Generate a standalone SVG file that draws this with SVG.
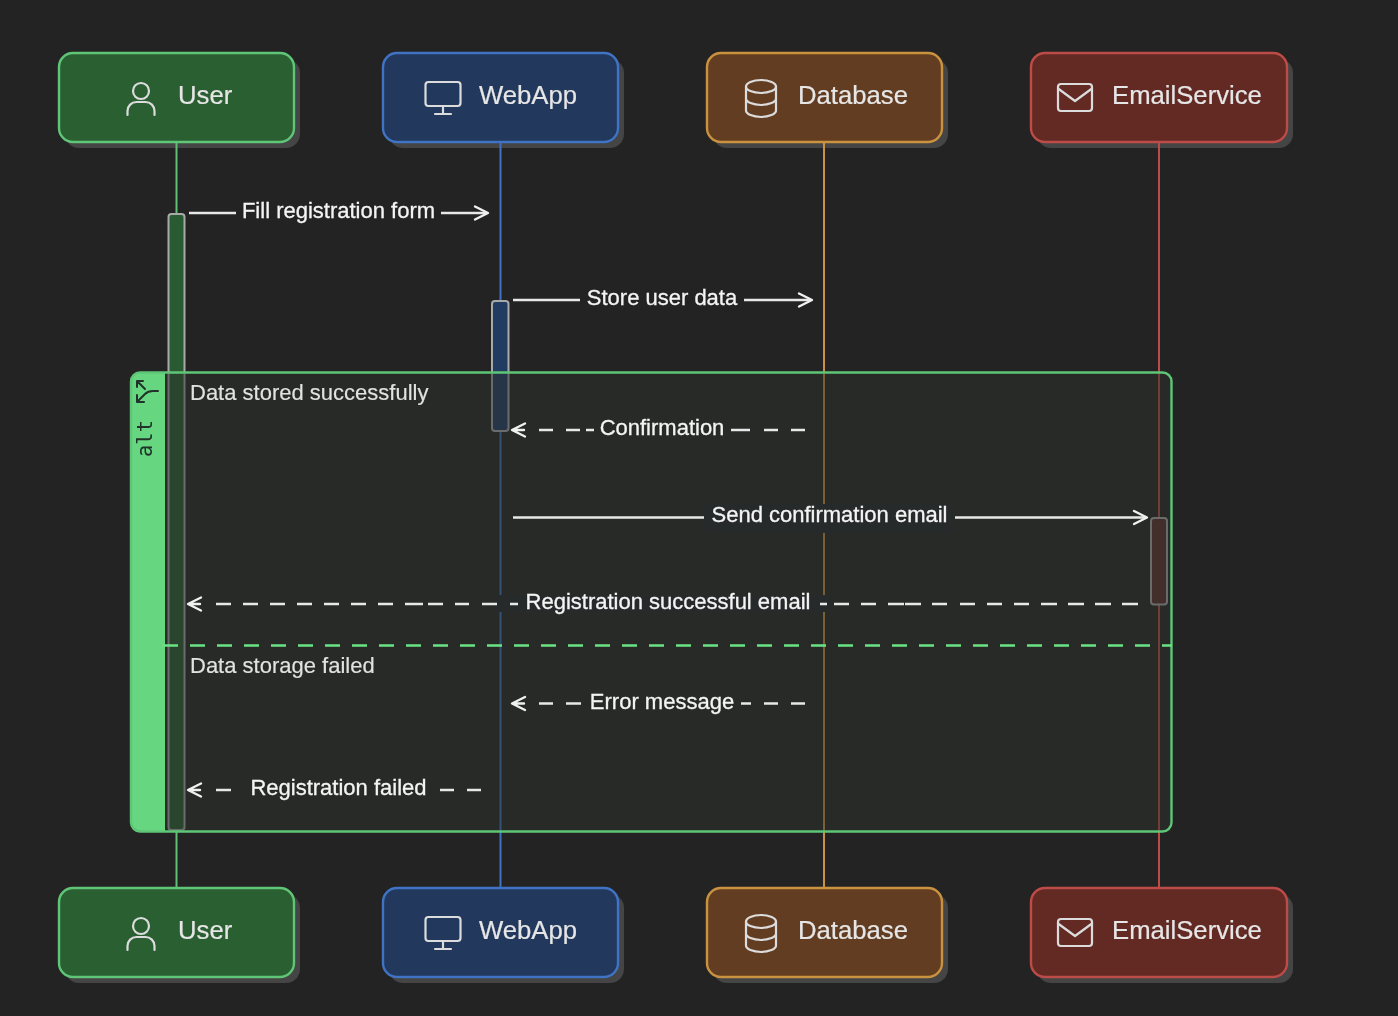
<svg xmlns="http://www.w3.org/2000/svg" width="1398" height="1016" viewBox="0 0 1398 1016">
<style>
text{font-family:"Liberation Sans",Arial,sans-serif;fill:#ececec}
.t{font-size:25.700px;fill:#e6e6e6;stroke:#e6e6e6;stroke-width:.2}
.m{font-size:22px;fill:#f4f4f4;stroke:#f4f4f4;stroke-width:.3}
.sec{font-size:22px;fill:#e2e2e2;stroke:#e2e2e2;stroke-width:.15}
.sh{fill:#444}
.ic{fill:none;stroke:#dcdcdc;stroke-width:2.200;stroke-linecap:round;stroke-linejoin:round}
.ll{stroke-width:2;fill:none}
.ms{stroke:#e8e8e8;stroke-width:2.400;fill:none}
.bg{fill:#282c2a}
.hd{fill:none;stroke:#f0f0f0;stroke-width:2.400;stroke-linecap:round;stroke-linejoin:round}
.ac{stroke:#a9a9a9;stroke-width:2}
</style>
<defs>
<g id="iUser" class="ic"><circle cx="0" cy="-6" r="8"/><path d="M-13.500 18v-4a9 9 0 0 1 9-9h9a9 9 0 0 1 9 9v4"/></g>
<g id="iWeb" class="ic"><rect x="-17.500" y="-13" width="35" height="24" rx="3"/><path d="M0 11v8M-8 19h16"/></g>
<g id="iDb" class="ic"><ellipse cx="0" cy="-11.500" rx="15" ry="6.500"/><path d="M-15 -11.500v24c0 3.600 7 6.500 15 6.500s15-2.900 15-6.500v-24M-15 .5c0 3.600 7 6.500 15 6.500s15-2.900 15-6.500"/></g>
<g id="iMail" class="ic"><rect x="-17" y="-13.500" width="34" height="27" rx="3"/><path d="M-17 -9l17 12.500L17 -9"/></g>
<filter id="soft" filterUnits="userSpaceOnUse" x="0" y="0" width="1398" height="1016"><feGaussianBlur stdDeviation=".45"/></filter>
</defs>
<rect width="1398" height="1016" fill="#232323"/>
<g filter="url(#soft)">

<g id="user-top"><rect class="sh" x="65" y="59" width="235" height="89" rx="14"/><rect x="59" y="53" width="235" height="89" rx="14" fill="#2b5e33" stroke="#5fc677" stroke-width="2.400"/><use href="#iUser" x="141" y="97"/><text class="t" x="178" y="104">User</text></g>
<g id="webapp-top"><rect class="sh" x="389" y="59" width="235" height="89" rx="14"/><rect x="383" y="53" width="235" height="89" rx="14" fill="#21375d" stroke="#3f73c4" stroke-width="2.400"/><use href="#iWeb" x="443" y="95"/><text class="t" x="479" y="104">WebApp</text></g>
<g id="database-top"><rect class="sh" x="713" y="59" width="235" height="89" rx="14"/><rect x="707" y="53" width="235" height="89" rx="14" fill="#633d22" stroke="#c9923f" stroke-width="2.400"/><use href="#iDb" x="761" y="98"/><text class="t" x="798" y="104">Database</text></g>
<g id="email-top"><rect class="sh" x="1037" y="59" width="256" height="89" rx="14"/><rect x="1031" y="53" width="256" height="89" rx="14" fill="#622924" stroke="#bd4b47" stroke-width="2.400"/><use href="#iMail" x="1075" y="97.500"/><text class="t" x="1112" y="104">EmailService</text></g>

<g id="user-bottom"><rect class="sh" x="65" y="894" width="235" height="89" rx="14"/><rect x="59" y="888" width="235" height="89" rx="14" fill="#2b5e33" stroke="#5fc677" stroke-width="2.400"/><use href="#iUser" x="141" y="932"/><text class="t" x="178" y="939">User</text></g>
<g id="webapp-bottom"><rect class="sh" x="389" y="894" width="235" height="89" rx="14"/><rect x="383" y="888" width="235" height="89" rx="14" fill="#21375d" stroke="#3f73c4" stroke-width="2.400"/><use href="#iWeb" x="443" y="930"/><text class="t" x="479" y="939">WebApp</text></g>
<g id="database-bottom"><rect class="sh" x="713" y="894" width="235" height="89" rx="14"/><rect x="707" y="888" width="235" height="89" rx="14" fill="#633d22" stroke="#c9923f" stroke-width="2.400"/><use href="#iDb" x="761" y="933"/><text class="t" x="798" y="939">Database</text></g>
<g id="email-bottom"><rect class="sh" x="1037" y="894" width="256" height="89" rx="14"/><rect x="1031" y="888" width="256" height="89" rx="14" fill="#622924" stroke="#bd4b47" stroke-width="2.400"/><use href="#iMail" x="1075" y="932.500"/><text class="t" x="1112" y="939">EmailService</text></g>

<g id="lifelines">
<path class="ll" stroke="#5fbf73" d="M176.500 143V887"/>
<path class="ll" stroke="#3f73c4" d="M500.500 143V887"/>
<path class="ll" stroke="#c9923f" d="M824 143V887"/>
<path class="ll" stroke="#bd4b47" d="M1159 143V887"/>
</g>

<g id="activations">
<rect id="act-user" class="ac" x="168.500" y="214" width="16" height="616" rx="3" fill="#2a5a32"/>
<rect id="act-webapp" class="ac" x="492" y="301" width="16.500" height="130" rx="3" fill="#223a61"/>
<rect id="act-email" class="ac" x="1151" y="518" width="16" height="86.500" rx="3" fill="#5a2b27"/>
</g>

<g id="alt-frame">
<rect x="165" y="372.500" width="1006" height="459" fill="#2a302c" fill-opacity=".5"/>
<path d="M165 372.500H141a10 10 0 0 0-10 10V821a10 10 0 0 0 10 10h24z" fill="#66d681"/>
<rect x="131" y="372.500" width="1040.500" height="459" rx="9" fill="none" stroke="#5fc677" stroke-width="2.400"/>
<path d="M163 645.500H1172" stroke="#6be384" stroke-width="2.400" stroke-dasharray="15 12" fill="none"/>
<text transform="translate(152,457) rotate(-90)" style="font-family:'DejaVu Sans Mono',monospace;font-size:20.500px;fill:#20322a">alt</text>
<path d="M145 389l-8-8M137 387v-6h6M158 391h-5c-4 0-6 1-8 3l-8 8M137 395v7h7" fill="none" stroke="#20322a" stroke-width="2" stroke-linecap="round" stroke-linejoin="round"/>
<text class="sec" x="190" y="400">Data stored successfully</text>
<text class="sec" x="190" y="673">Data storage failed</text>
</g>

<g id="connectors">
<path class="ms" d="M189 213H236M441 213H486"/><path class="hd" d="M475 206.500l13 6.500-13 6.500"/>
<path class="ms" d="M513 300H580M744 300H810"/><path class="hd" d="M799 293.500l13 6.500-13 6.500"/>
<path class="ms" d="M539 430H553M566 430H580M586 430H594M731 430H750M764 430H778M791 430H805"/><path class="hd" d="M525 423.500l-13 6.500 13 6.500M513 430H524"/>
<rect class="bg" x="705" y="504" width="249" height="29"/>
<path class="ms" d="M513 517.500H704M955 517.500H1145"/><path class="hd" d="M1134 511l13 6.500-13 6.500"/>
<rect class="bg" x="493" y="595" width="337" height="17"/>
<path class="ms" d="M216 604H231M243 604H258M270 604H285M297 604H312M324 604H339M351 604H366M378 604H393M405 604H423M428 604H443M455 604H469M482 604H497M510 604H518M820 604H827M834 604H849M861 604H876M888 604H904M905 604H921M932 604H947M960 604H975M987 604H1002M1014 604H1029M1041 604H1057M1068 604H1084M1095 604H1111M1122 604H1138"/><path class="hd" d="M201 597.500l-13 6.500 13 6.500M189 604H200"/>
<path class="ms" d="M539 703.500H553M566 703.500H581M741 703.500H751M764 703.500H778M791 703.500H805"/><path class="hd" d="M525 697l-13 6.500 13 6.500M513 703.500H524"/>
<path class="ms" d="M216 790H231M440 790H454M467 790H481"/><path class="hd" d="M201 783.500l-13 6.500 13 6.500M189 790H200"/>
</g>

<g id="message-labels">
<text class="m" x="338.500" y="218" text-anchor="middle">Fill registration form</text>
<text class="m" x="662" y="305" text-anchor="middle">Store user data</text>
<text class="m" x="662" y="435" text-anchor="middle">Confirmation</text>
<text class="m" x="829.500" y="522" text-anchor="middle">Send confirmation email</text>
<text class="m" x="668" y="609" text-anchor="middle">Registration successful email</text>
<text class="m" x="662" y="709" text-anchor="middle">Error message</text>
<text class="m" x="338.500" y="795" text-anchor="middle">Registration failed</text>
</g>
</g>
</svg>
